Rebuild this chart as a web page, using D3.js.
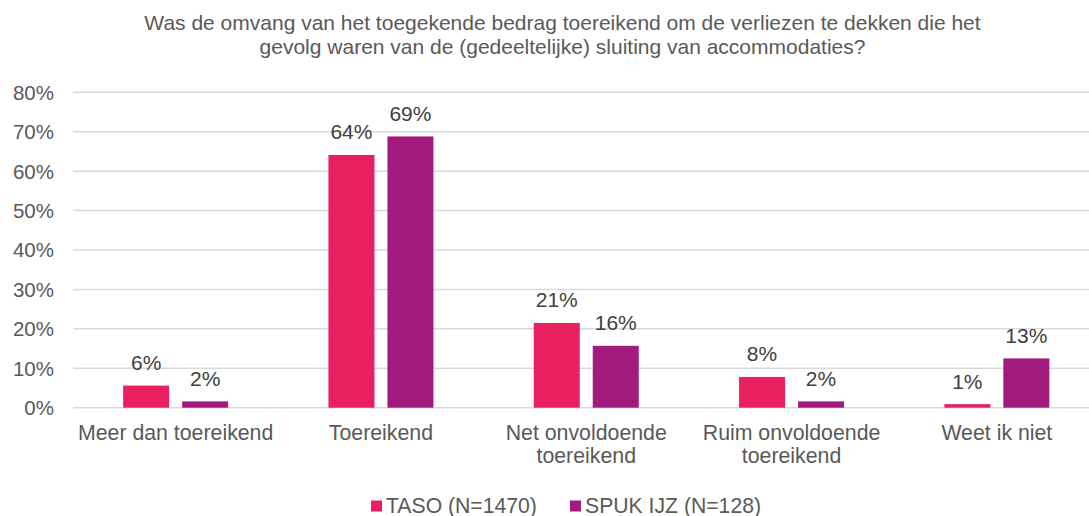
<!DOCTYPE html>
<html>
<head>
<meta charset="utf-8">
<script src="https://cdn.jsdelivr.net/npm/d3@7"></script>
<style>
  body { margin: 0; background: #fff; }
  svg text { font-family: "Liberation Sans", Arial, sans-serif; }
</style>
</head>
<body>
<div id="chart"></div>
<script>
var width = 1089, height = 516;

// data
var titleLines = ["Was de omvang van het toegekende bedrag toereikend om de verliezen te dekken die het",
                  "gevolg waren van de (gedeeltelijke) sluiting van accommodaties?"];
var categories = ["Meer dan toereikend", "Toereikend", "Net onvoldoende toereikend", "Ruim onvoldoende toereikend", "Weet ik niet"];
var seriesNames = ["TASO (N=1470)", "SPUK IJZ (N=128)"];
var tasoValues = [0.056, 0.641, 0.215, 0.078, 0.009];
var spukValues = [0.016, 0.688, 0.157, 0.016, 0.125];
var tasoLabels = ["6%", "64%", "21%", "8%", "1%"];
var spukLabels = ["2%", "69%", "16%", "2%", "13%"];
var yTicks = [0, 0.1, 0.2, 0.3, 0.4, 0.5, 0.6, 0.7, 0.8];

var colors = ["#e8205f", "#a21a7e"];

var svg = d3.select("#chart").append("svg")
  .attr("width", width)
  .attr("height", height);

var x = d3.scaleBand()
  .domain(categories)
  .range([73, 1099.5]);

var xInner = d3.scaleBand()
  .domain(seriesNames)
  .range([x.bandwidth() / 2 - 52.5, x.bandwidth() / 2 + 52.5])
  .paddingInner(0.22);

var y = d3.scaleLinear()
  .domain([0, 0.8])
  .range([407.7, 92.3]);

// title
svg.append("text")
  .attr("x", 562.5)
  .attr("y", 30)
  .attr("text-anchor", "middle")
  .style("font-size", "21px")
  .style("fill", "#595959")
  .selectAll("tspan")
  .data(titleLines).enter()
  .append("tspan")
  .attr("x", 562.5)
  .attr("dy", function(d, i) { return i == 0 ? 0 : 23.5; })
  .text(function(d) { return d; });

// gridlines + y axis
var yAxis = d3.axisLeft(y)
  .tickValues(yTicks)
  .tickFormat(d3.format(".0%"))
  .tickSize(0)
  .tickPadding(19);

var gy = svg.append("g")
  .attr("transform", "translate(73,0)")
  .call(yAxis);
gy.select(".domain").remove();
gy.selectAll("text")
  .style("font-size", "20.5px")
  .style("fill", "#595959")
  .attr("dy", "0.34em");

svg.append("g").selectAll("line")
  .data(yTicks).enter()
  .append("line")
  .attr("x1", 73)
  .attr("x2", width)
  .attr("y1", function(d) { return y(d); })
  .attr("y2", function(d) { return y(d); })
  .attr("stroke", "#d9d9d9")
  .attr("stroke-width", 1.5);

// bars
var rows = categories.map(function(c, i) {
  return { cat: c, vals: [tasoValues[i], spukValues[i]], labels: [tasoLabels[i], spukLabels[i]] };
});

var groups = svg.append("g").selectAll("g")
  .data(rows).enter()
  .append("g")
  .attr("transform", function(d) { return "translate(" + x(d.cat) + ",0)"; });

groups.selectAll("rect")
  .data(function(d) { return d.vals.map(function(v, j) { return { s: seriesNames[j], v: v, j: j }; }); })
  .enter().append("rect")
  .attr("x", function(d) { return xInner(d.s); })
  .attr("y", function(d) { return y(d.v); })
  .attr("width", xInner.bandwidth())
  .attr("height", function(d) { return y(0) - y(d.v); })
  .attr("fill", function(d) { return colors[d.j]; });

groups.selectAll("text")
  .data(function(d) { return d.vals.map(function(v, j) { return { s: seriesNames[j], v: v, t: d.labels[j] }; }); })
  .enter().append("text")
  .attr("x", function(d) { return xInner(d.s) + xInner.bandwidth() / 2; })
  .attr("y", function(d) { return y(d.v) - 15.5; })
  .attr("text-anchor", "middle")
  .style("font-size", "21px")
  .style("fill", "#404040")
  .text(function(d) { return d.t; });

// category labels (wrapped)
function wrapLines(str, maxW) {
  var words = str.split(" "), lines = [], line = [];
  var tmp = svg.append("text").style("font-size", "21.3px");
  words.forEach(function(w) {
    line.push(w);
    tmp.text(line.join(" "));
    if (tmp.node().getComputedTextLength() > maxW && line.length > 1) {
      line.pop();
      lines.push(line.join(" "));
      line = [w];
    }
  });
  lines.push(line.join(" "));
  tmp.remove();
  return lines;
}

var catText = svg.append("g").selectAll("text")
  .data(categories).enter()
  .append("text")
  .attr("text-anchor", "middle")
  .attr("y", 440)
  .style("font-size", "21.3px")
  .style("fill", "#595959");

catText.each(function(c) {
  var el = d3.select(this);
  var cx = x(c) + x.bandwidth() / 2;
  wrapLines(c, 200).forEach(function(l, i) {
    el.append("tspan")
      .attr("x", cx)
      .attr("dy", i == 0 ? 0 : 23)
      .text(l);
  });
});

// legend
var legendX = [371, 570];
var legend = svg.append("g").selectAll("g")
  .data(seriesNames).enter()
  .append("g")
  .attr("transform", function(d, i) { return "translate(" + legendX[i] + ",0)"; });

legend.append("rect")
  .attr("x", 0)
  .attr("y", 500.5)
  .attr("width", 11)
  .attr("height", 11)
  .attr("fill", function(d, i) { return colors[i]; });

legend.append("text")
  .attr("x", 15)
  .attr("y", 513)
  .style("font-size", "21.2px")
  .style("fill", "#595959")
  .text(function(d) { return d; });
</script>
</body>
</html>
